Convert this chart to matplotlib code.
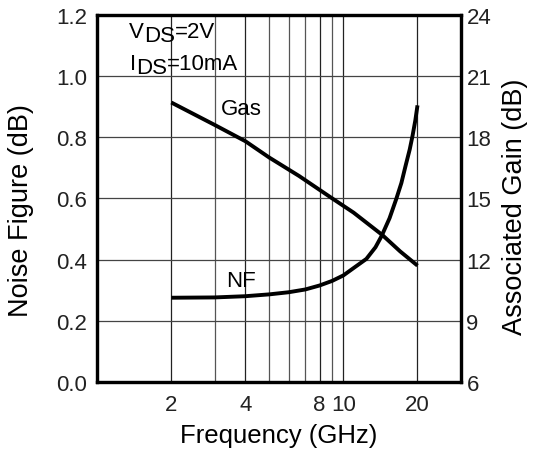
import matplotlib
matplotlib.use("Agg")
import matplotlib.pyplot as plt
from matplotlib.ticker import FixedLocator, NullFormatter

plt.rcParams['font.family'] = ['Liberation Sans', 'DejaVu Sans']

# noise figure (dB) vs frequency (GHz)
nf_freq = [2, 3, 4, 5, 6, 7, 8, 9, 10, 11, 12.4, 13.5, 14.3, 15.4, 16.4, 17.2, 17.9, 18.6, 19.1, 19.6, 20]
nf_db = [0.275, 0.276, 0.280, 0.286, 0.293, 0.302, 0.315, 0.330, 0.348, 0.372, 0.402, 0.440, 0.477, 0.535,
         0.598, 0.650, 0.707, 0.760, 0.805, 0.855, 0.904]

# associated gain (dB) vs frequency (GHz)
gas_freq = [2, 3, 4, 5, 6.6, 9, 11, 14.4, 17, 20]
gas_db = [19.7, 18.6, 17.8, 17.0, 16.1, 15.0, 14.3, 13.2, 12.4, 11.7]

x_major = [2, 4, 8, 10, 20]
x_minor = [3, 5, 6, 7, 9]
nf_ticks = [0.0, 0.2, 0.4, 0.6, 0.8, 1.0, 1.2]
gain_ticks = [6, 9, 12, 15, 18, 21, 24]

fig = plt.figure(figsize=(5.34, 4.52), dpi=100)
ax = fig.add_axes([0.182, 0.153, 0.681, 0.812])
ax2 = ax.twinx()

ax.set_xscale('log')
ax.set_xlim(1, 30)
ax.set_ylim(0, 1.2)
ax2.set_ylim(6, 24)

ax.xaxis.set_major_locator(FixedLocator(x_major))
ax.xaxis.set_minor_locator(FixedLocator(x_minor))
ax.set_xticklabels([str(v) for v in x_major])
ax.xaxis.set_minor_formatter(NullFormatter())
ax.set_yticks(nf_ticks)
ax.set_yticklabels(['%.1f' % v for v in nf_ticks])
ax2.set_yticks(gain_ticks)

ax.grid(True, which='major', axis='x', color='#222222', lw=0.9)
ax.grid(True, which='minor', axis='x', color='#555555', lw=0.9)
ax.grid(True, which='major', axis='y', color='#444444', lw=0.9)
ax.set_axisbelow(True)

ax.tick_params(axis='both', which='both', length=0, labelsize=16, colors='#222222')
ax.tick_params(axis='x', pad=9)
ax.tick_params(axis='y', pad=7)
ax2.tick_params(axis='y', length=0, labelsize=16, colors='#222222', pad=4)

for a in (ax, ax2):
    for s in a.spines.values():
        s.set_linewidth(2.3)
        s.set_color('black')

ax.plot(nf_freq, nf_db, color='black', lw=2.8, solid_capstyle='butt')
ax2.plot(gas_freq, gas_db, color='black', lw=2.8, solid_capstyle='butt')

ax.text(3.19, 0.893, 'Gas', fontsize=16, ha='left', va='center')
ax.text(3.34, 0.332, 'NF', fontsize=16, ha='left', va='center')

# bias conditions with lowered "DS"
t1 = ax.text(1.35, 1.128, 'V', fontsize=16, ha='left', va='baseline')
t2 = ax.annotate('DS', xy=(1, 0), xycoords=t1, xytext=(0, -3), textcoords='offset points',
                 fontsize=16, va='bottom')
ax.annotate('=2V', xy=(1, 0), xycoords=t2, xytext=(0, 3), textcoords='offset points',
            fontsize=16, va='bottom')
t4 = ax.text(1.36, 1.024, 'I', fontsize=16, ha='left', va='baseline')
t5 = ax.annotate('DS', xy=(1, 0), xycoords=t4, xytext=(0, -3), textcoords='offset points',
                 fontsize=16, va='bottom')
ax.annotate('=10mA', xy=(1, 0), xycoords=t5, xytext=(0, 3), textcoords='offset points',
            fontsize=16, va='bottom')

ax.set_xlabel('Frequency (GHz)', fontsize=18.5)
ax.set_ylabel('Noise Figure (dB)', fontsize=19.5)
ax2.set_ylabel('Associated Gain (dB)', fontsize=19.5)
ax.yaxis.set_label_coords(-0.175, 0.47)
ax2.yaxis.set_label_coords(1.112, 0.48)
ax.xaxis.set_label_coords(0.5, -0.112)

fig.savefig('out.png', dpi=100)
